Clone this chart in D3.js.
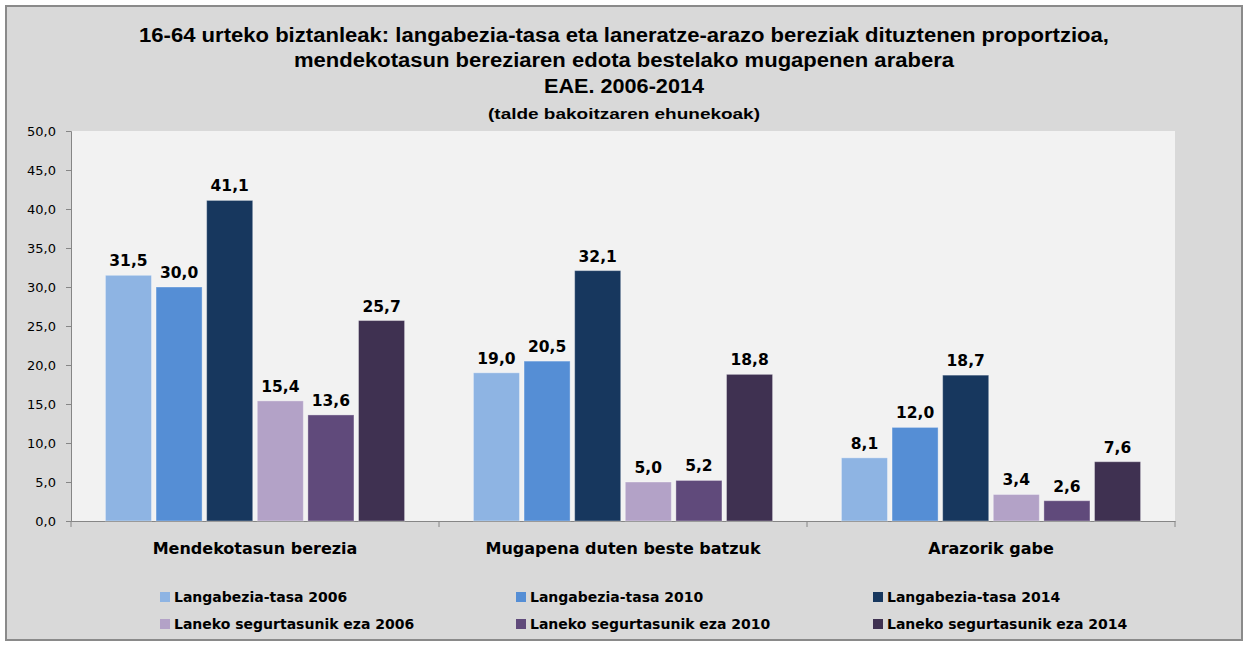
<!DOCTYPE html>
<html><head><meta charset="utf-8">
<script src="https://cdn.jsdelivr.net/npm/d3@7"></script>
<style>body{margin:0;background:#fff}svg{display:block}</style>
</head><body><svg id="c" width="1248" height="646"></svg>
<script>
const titleLines = ["16-64 urteko biztanleak: langabezia-tasa eta laneratze-arazo bereziak dituztenen proportzioa,",
  "mendekotasun bereziaren edota bestelako mugapenen arabera", "EAE. 2006-2014"];
const subtitle = "(talde bakoitzaren ehunekoak)";
const categories = ["Mendekotasun berezia", "Mugapena duten beste batzuk", "Arazorik gabe"];
const seriesNames = ["Langabezia-tasa 2006", "Langabezia-tasa 2010", "Langabezia-tasa 2014",
  "Laneko segurtasunik eza 2006", "Laneko segurtasunik eza 2010", "Laneko segurtasunik eza 2014"];
const langabezia2006 = [31.5, 19.0, 8.1];
const langabezia2010 = [30.0, 20.5, 12.0];
const langabezia2014 = [41.1, 32.1, 18.7];
const segurtasun2006 = [15.4, 5.0, 3.4];
const segurtasun2010 = [13.6, 5.2, 2.6];
const segurtasun2014 = [25.7, 18.8, 7.6];
const seriesValues = [langabezia2006, langabezia2010, langabezia2014, segurtasun2006, segurtasun2010, segurtasun2014];
const colors = ["#8eb4e3", "#558ed5", "#17375e", "#b3a2c7", "#604a7b", "#3f3151"];
const yTicks = [0, 5, 10, 15, 20, 25, 30, 35, 40, 45, 50];

const svg = d3.select("#c");
const fmt = v => d3.format(".1f")(v).replace(".", ",");
svg.append("rect").attr("x", 6).attr("y", 6).attr("width", 1236).attr("height", 634)
  .attr("fill", "#d9d9d9").attr("stroke", "#8a8a8a").attr("stroke-width", 2);

const L = 71, R = 1175, T = 131, B = 521;
svg.append("rect").attr("x", L).attr("y", T).attr("width", R - L).attr("height", B - T).attr("fill", "#f2f2f2");

const y = d3.scaleLinear().domain([0, 50]).range([B, T]);
const x0 = d3.scaleBand().domain(categories).range([L, R]).padding(0);
const x1 = d3.scaleBand().domain(seriesNames).range([0, x0.bandwidth()]).paddingInner(0.09).paddingOuter(0.68);

// title
const tl = [[35, 970], [60, 660], [86, 160]];
titleLines.forEach((t, i) => {
  svg.append("text").attr("x", 624).attr("y", tl[i][0] + 7).attr("text-anchor", "middle")
    .attr("font-family", "Liberation Sans, Arial, sans-serif").attr("font-weight", "bold").attr("font-size", 20)
    .attr("textLength", tl[i][1]).attr("lengthAdjust", "spacingAndGlyphs").attr("fill", "#000").text(t);
});
svg.append("text").attr("x", 624).attr("y", 119).attr("text-anchor", "middle")
  .attr("font-family", "Liberation Sans, Arial, sans-serif").attr("font-weight", "bold").attr("font-size", 15.5)
  .attr("textLength", 272).attr("lengthAdjust", "spacingAndGlyphs").text(subtitle);

// y axis
const ya = svg.append("g").attr("transform", `translate(${L},0)`)
  .call(d3.axisLeft(y).tickValues(yTicks).tickFormat(fmt).tickSize(5).tickPadding(10));
ya.select(".domain").attr("stroke", "#868686");
ya.selectAll(".tick line").attr("stroke", "#868686");
ya.selectAll(".tick text").attr("font-family", "DejaVu Sans, sans-serif").attr("font-size", 13).attr("fill", "#000");

// x axis
const xa = svg.append("g").attr("transform", `translate(0,${B})`)
  .call(d3.axisBottom(x0).tickSize(0).tickPadding(22));
xa.select(".domain").attr("stroke", "#868686");
xa.selectAll(".tick text").attr("font-family", "DejaVu Sans, sans-serif").attr("font-weight", "bold")
  .attr("font-size", 16).attr("fill", "#000");
const bounds = [L, ...categories.map(c => x0(c) + x0.bandwidth())];
svg.selectAll("line.cb").data(bounds).join("line").attr("class", "cb")
  .attr("x1", d => d).attr("x2", d => d).attr("y1", B).attr("y2", B + 6).attr("stroke", "#868686");

// bars
const groups = svg.selectAll("g.grp").data(categories).join("g").attr("class", "grp")
  .attr("transform", c => `translate(${x0(c)},0)`);
groups.each(function (c, ci) {
  const g = d3.select(this);
  seriesNames.forEach((s, si) => {
    const v = seriesValues[si][ci];
    g.append("rect").attr("x", x1(s)).attr("y", y(v)).attr("width", x1.bandwidth()).attr("height", y(0) - y(v))
      .attr("fill", colors[si]).attr("stroke", "rgba(255,255,255,0.35)").attr("stroke-width", 1);
    g.append("text").attr("x", x1(s) + x1.bandwidth() / 2).attr("y", y(v) - 9).attr("text-anchor", "middle")
      .attr("font-family", "DejaVu Sans, sans-serif").attr("font-weight", "bold").attr("font-size", 15.5)
      .attr("fill", "#000").text(fmt(v));
  });
});

// legend
const legX = [160, 516, 873], legY = [597, 624];
seriesNames.forEach((s, i) => {
  const col = i % 3, row = Math.floor(i / 3);
  const g = svg.append("g").attr("transform", `translate(${legX[col]},${legY[row]})`);
  g.append("rect").attr("x", 0).attr("y", -5).attr("width", 10).attr("height", 10).attr("fill", colors[i]);
  g.append("text").attr("x", 14).attr("y", 5).attr("font-family", "DejaVu Sans, sans-serif")
    .attr("font-weight", "bold").attr("font-size", 14).attr("fill", "#000").text(s);
});
</script></body></html>
